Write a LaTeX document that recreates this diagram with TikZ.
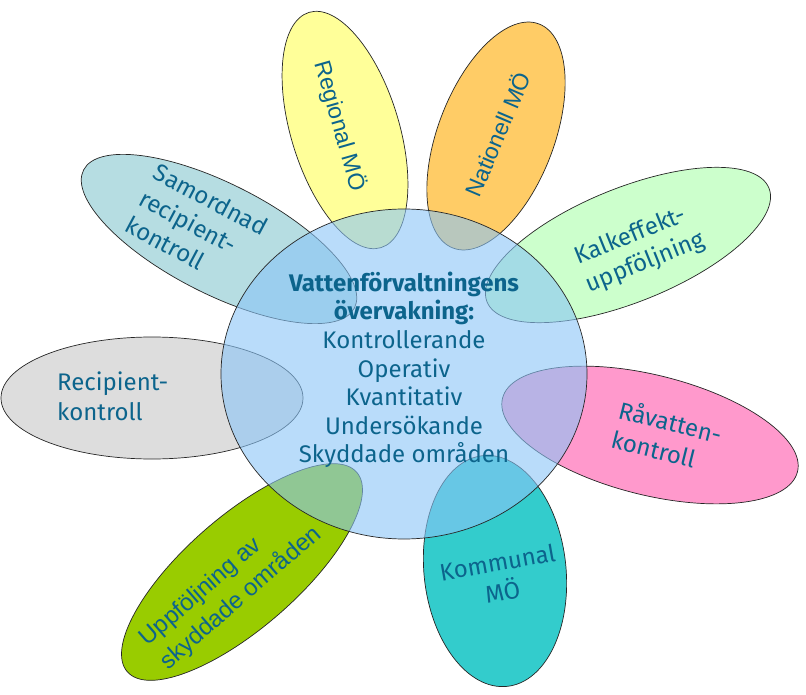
\documentclass[tikz,border=0pt]{standalone}
\usepackage{fontspec}
\setmainfont{Fira Sans}
\newfontfamily\arialf{Liberation Sans}
\usetikzlibrary{shapes.geometric}
\definecolor{txt}{RGB}{12,100,140}
\definecolor{cYellow}{RGB}{255,255,153}
\definecolor{cOrange}{RGB}{255,204,102}
\definecolor{cLgreen}{RGB}{204,255,204}
\definecolor{cTeal}{RGB}{182,221,226}
\definecolor{cGray}{RGB}{221,221,221}
\definecolor{cPink}{RGB}{255,153,204}
\definecolor{cCyan}{RGB}{51,204,204}
\definecolor{cLime}{RGB}{153,204,0}
\definecolor{cHub}{RGB}{138,197,247}
\begin{document}
\begin{tikzpicture}[x=1pt,y=-1pt,
  petal/.style={ellipse, draw=black!85, line width=0.7pt, inner sep=0pt, outer sep=0pt},
  hub/.style={ellipse, draw=black!85, line width=0.7pt, fill=cHub, fill opacity=0.6, inner sep=0pt, minimum width=366pt, minimum height=330pt},
  lbl/.style={text=txt, inner sep=0pt, font=\fontsize{24}{30}\selectfont, align=left},
  albl/.style={text=txt, inner sep=0pt, font=\arialf\fontsize{23}{31}\selectfont, align=left},
  hublbl/.style={text=txt, inner sep=0pt, font=\fontsize{24}{28.6}\selectfont, align=center}]
\useasboundingbox (0,0) rectangle (806,695);
% petals
\node[petal, fill=cYellow, minimum width=246pt, minimum height=108pt, rotate=-73] (regional) at (345,130) {};
\node[petal, fill=cOrange, minimum width=240pt, minimum height=116pt, rotate=69] (nationell) at (496,136) {};
\node[petal, fill=cLgreen, minimum width=304pt, minimum height=114pt, rotate=22] (kalk) at (628,245) {};
\node[petal, fill=cTeal, minimum width=304pt, minimum height=110pt, rotate=-27] (samord) at (219,239) {};
\node[petal, fill=cGray, minimum width=302pt, minimum height=122pt] (recip) at (152,398) {};
\node[petal, fill=cPink, minimum width=304pt, minimum height=120pt, rotate=-14] (ravatten) at (650,435) {};
\node[petal, fill=cCyan, minimum width=232pt, minimum height=142pt, rotate=-84] (kommunal) at (495,571) {};
\node[petal, fill=cLime, minimum width=304pt, minimum height=112pt, rotate=41] (uppf) at (242,572) {};
% hub
\node[hub] (center) at (404,374) {};
% labels
\node[albl, rotate=-74] (tregional) at (340,126) {Regional MÖ};
\node[albl, rotate=67] (tnationell) at (497,134) {Nationell MÖ};
\node[lbl, rotate=22] (tkalk) at (640,249) {Kalkeffekt-\\uppföljning};
\node[lbl, rotate=-28] (tsamord) at (197,226) {Samordnad\\recipient-\\kontroll};
\node[lbl, anchor=west] (trecip) at (57,396) {Recipient-\\kontroll};
\node[lbl, rotate=-14] (travatten) at (667,436) {Råvatten-\\kontroll};
\node[lbl, rotate=10, align=center] (tkommunal) at (500,577) {Kommunal\\MÖ};
\node[albl, rotate=41, font=\arialf\fontsize{24}{31}\selectfont] (tuppf) at (231,587) {Uppföljning av\\skyddade områden};
\node[hublbl] (tcenter) at (404,370) {\textbf{Vattenförvaltningens}\\\textbf{övervakning:}\\Kontrollerande\\Operativ\\Kvantitativ\\Undersökande\\Skyddade områden};
\end{tikzpicture}
\end{document}
